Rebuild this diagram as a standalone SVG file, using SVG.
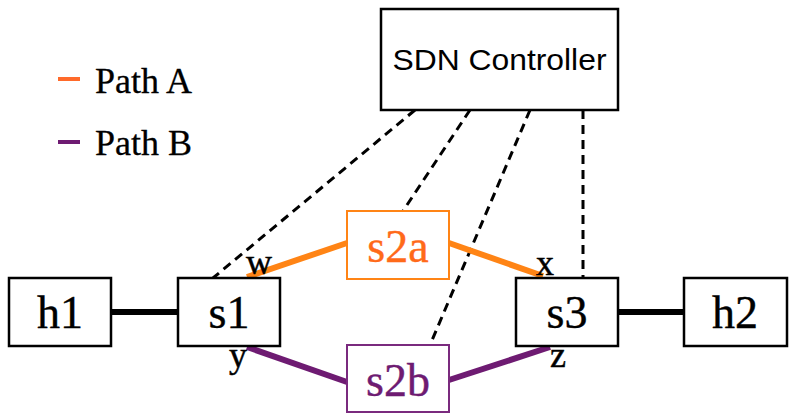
<svg xmlns="http://www.w3.org/2000/svg" width="793" height="420" viewBox="0 0 793 420">
<style>
.box{fill:#fff;stroke:#000;stroke-width:2.5}
.lbl{font-family:"Liberation Serif","DejaVu Serif",serif;font-size:46px;text-anchor:middle;fill:#000;stroke:currentColor;stroke-width:0.4}
.port{font-family:"Liberation Serif","DejaVu Serif",serif;font-size:36px;text-anchor:middle;fill:#000;stroke:#000;stroke-width:0.5}
.leg{font-family:"Liberation Serif","DejaVu Serif",serif;font-size:36px;fill:#000;stroke:#000;stroke-width:0.3}
.ctrl{stroke:#000;stroke-width:3;stroke-dasharray:9 6;fill:none}
.pa{stroke:#FF8415;stroke-width:6;fill:none}
.pb{stroke:#6E1B72;stroke-width:6;fill:none}
.host{stroke:#000;stroke-width:6;fill:none}
</style>
<rect width="793" height="420" fill="#fff"/>
<g id="legend">
<line x1="58" y1="79" x2="80" y2="79" stroke="#FF6A2A" stroke-width="4"/>
<text class="leg" x="95" y="93">Path A</text>
<line x1="58" y1="142" x2="80" y2="142" stroke="#6E1B72" stroke-width="4"/>
<text class="leg" x="95" y="155">Path B</text>
</g>
<g id="connectors">
<line class="ctrl" x1="415" y1="110" x2="213" y2="278"/>
<line class="ctrl" x1="470" y1="110" x2="403" y2="211"/>
<line class="ctrl" x1="530" y1="110" x2="430" y2="345"/>
<line class="ctrl" x1="583" y1="110" x2="583" y2="278"/>
<line class="host" x1="111" y1="312" x2="178" y2="312"/>
<line class="host" x1="618" y1="312" x2="684" y2="312"/>
<line class="pa" x1="247" y1="277" x2="347" y2="243"/>
<line class="pa" x1="449" y1="243" x2="543" y2="276"/>
<line class="pb" x1="247" y1="347" x2="347" y2="382"/>
<line class="pb" x1="449" y1="380" x2="550" y2="347"/>
</g>
<g id="controller">
<rect class="box" x="381" y="9" width="237" height="101"/>
<text x="499.5" y="70" font-family="'Liberation Sans','DejaVu Sans',sans-serif" font-size="30" text-anchor="middle" textLength="214" lengthAdjust="spacingAndGlyphs">SDN Controller</text>
</g>
<g id="h1">
<rect class="box" x="9" y="278" width="102" height="68"/>
<text class="lbl" x="60" y="328" color="#000">h1</text>
</g>
<g id="s1">
<rect class="box" x="178" y="278" width="102" height="68"/>
<text class="lbl" x="229" y="328" color="#000">s1</text>
</g>
<g id="s2a">
<rect x="347" y="211" width="102" height="68" fill="#fff" stroke="#FF8415" stroke-width="2"/>
<text class="lbl" x="398" y="262" color="#FF6A1A" style="fill:#FF6A1A">s2a</text>
</g>
<g id="s2b">
<rect x="347" y="345" width="102" height="67" fill="#fff" stroke="#7A2A7E" stroke-width="2"/>
<text class="lbl" x="398" y="396" color="#6E1B72" style="fill:#6E1B72">s2b</text>
</g>
<g id="s3">
<rect class="box" x="516" y="278" width="102" height="68"/>
<text class="lbl" x="567" y="328" color="#000">s3</text>
</g>
<g id="h2">
<rect class="box" x="684" y="278" width="103" height="68"/>
<text class="lbl" x="735" y="328" color="#000">h2</text>
</g>
<g id="ports">
<text class="port" x="259" y="274">w</text>
<text class="port" x="238" y="367">y</text>
<text class="port" x="545" y="275">x</text>
<text class="port" x="558" y="367">z</text>
</g>
</svg>
